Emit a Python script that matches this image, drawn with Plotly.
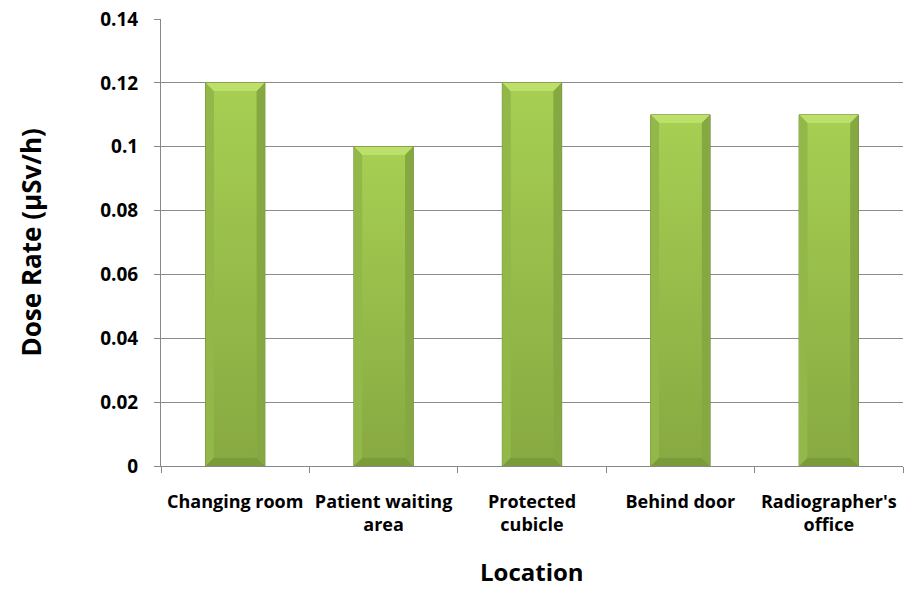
import plotly.graph_objects as go

categories = ["Changing room", "Patient waiting<br>area", "Protected<br>cubicle", "Behind door", "Radiographer's<br>office"]
dose_rate = [0.12, 0.10, 0.12, 0.11, 0.11]
y_ticks = [0, 0.02, 0.04, 0.06, 0.08, 0.10, 0.12, 0.14]
x_title = "Location"
y_title = "Dose Rate (µSv/h)"

xs = list(range(len(categories)))
bw = 0.40
bx = 0.055   # bevel horizontal size (data units)
by = 0.0026  # bevel vertical size (data units)

fig = go.Figure()
fig.add_trace(go.Bar(x=xs, y=dose_rate, width=bw, marker=dict(color="#8fb349",
                     line=dict(color="#6c8a32", width=1)), showlegend=False, hoverinfo="y"))

for x, v in zip(xs, dose_rate):
    l, r = x - bw / 2, x + bw / 2
    fig.add_trace(go.Scatter(x=[l + bx, r - bx, r - bx, l + bx, l + bx], y=[by, by, v - by, v - by, by],
                             fill="toself", mode="lines", line=dict(width=0),
                             fillgradient=dict(type="vertical", colorscale=[[0, "#88aa42"], [1, "#a6ce52"]]),
                             showlegend=False, hoverinfo="skip"))
    fig.add_trace(go.Scatter(x=[l, r, r - bx, l + bx, l], y=[v, v, v - by, v - by, v],
                             fill="toself", mode="lines", line=dict(width=0), fillcolor="#bde06a",
                             showlegend=False, hoverinfo="skip"))
    fig.add_trace(go.Scatter(x=[l, r, r - bx, l + bx, l], y=[0, 0, by, by, 0],
                             fill="toself", mode="lines", line=dict(width=0), fillcolor="#7b9a3a",
                             showlegend=False, hoverinfo="skip"))
    fig.add_trace(go.Scatter(x=[l, l + bx, l + bx, l, l], y=[0, by, v - by, v, 0],
                             fill="toself", mode="lines", line=dict(width=0), fillcolor="#93b84a",
                             showlegend=False, hoverinfo="skip"))
    fig.add_trace(go.Scatter(x=[r, r - bx, r - bx, r, r], y=[0, by, v - by, v, 0],
                             fill="toself", mode="lines", line=dict(width=0), fillcolor="#86a842",
                             showlegend=False, hoverinfo="skip"))

font_family = "'Open Sans', sans-serif"
fig.update_layout(
    width=906, height=590,
    margin=dict(l=161, r=3, t=19, b=124),
    plot_bgcolor="white", paper_bgcolor="white",
    font=dict(family=font_family, color="black"),
    xaxis=dict(
        range=[-0.5, len(categories) - 0.5],
        tickvals=xs, ticktext=categories, automargin=False,
        ticks="", showgrid=False, zeroline=False,
        showline=True, linecolor="#888888", linewidth=1,
        ticklabelstandoff=19,
        tickfont=dict(size=18, family=font_family, weight="bold"),
        minor=dict(tick0=-0.5, dtick=1, ticks="outside", ticklen=6, tickcolor="#888888", showgrid=False),
        fixedrange=True,
    ),
    yaxis=dict(
        range=[0, 0.14], tickvals=y_ticks, ticktext=[f"{t:g}" for t in y_ticks], automargin=False,
        ticks="outside", ticklen=6, tickcolor="#888888", ticklabelstandoff=12,
        showgrid=True, gridcolor="#8c8c8c", gridwidth=1,
        zeroline=False, showline=True, linecolor="#888888", linewidth=1,
        tickfont=dict(size=19, family=font_family, weight="bold"),
        fixedrange=True,
    ),
    annotations=[
        dict(text=f"<b>{x_title}</b>", xref="paper", yref="paper", x=0.5, y=0,
             xanchor="center", yanchor="middle", yshift=-105, showarrow=False,
             font=dict(size=24, family=font_family, color="black")),
        dict(text=f"<b>{y_title}</b>", xref="paper", yref="paper", x=0, y=0.5,
             xanchor="center", yanchor="middle", xshift=-131, textangle=-90, showarrow=False,
             font=dict(size=26, family=font_family, color="black")),
    ],
)

fig.write_html("out.html")
